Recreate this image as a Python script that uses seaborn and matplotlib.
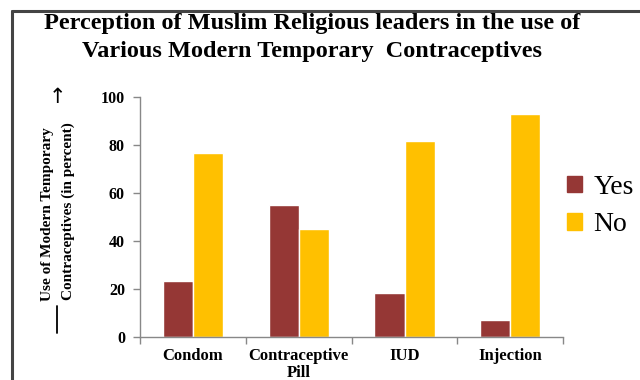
import matplotlib
matplotlib.use("Agg")
import matplotlib.pyplot as plt
from matplotlib.lines import Line2D
import seaborn as sns
import pandas as pd

categories = ["Condom", "Contraceptive\nPill", "IUD", "Injection"]
yes_values = [23.5, 55, 18.5, 7]
no_values = [76.5, 45, 81.5, 93]
series_names = ["Yes", "No"]
colors = ["#953735", "#FFC000"]
y_ticks = [0, 20, 40, 60, 80, 100]

df = pd.DataFrame({
    "Method": categories * 2,
    "Value": yes_values + no_values,
    "Response": [series_names[0]] * len(categories) + [series_names[1]] * len(categories),
})

sns.set_theme(style="white")
plt.rcParams["font.family"] = ["Liberation Serif", "DejaVu Serif"]
plt.rcParams["text.color"] = "black"
plt.rcParams["xtick.labelcolor"] = "black"
plt.rcParams["ytick.labelcolor"] = "black"

fig = plt.figure(figsize=(6.4, 3.8), dpi=100)
ax = fig.add_axes([0.219, 0.113, 0.661, 0.632])

sns.barplot(data=df, x="Method", y="Value", hue="Response", palette=colors,
            width=0.57, saturation=1, ax=ax, legend=False)

ax.set_ylim(0, 100)
ax.set_xlim(-0.5, 3.5)
ax.set_yticks(y_ticks)
ax.set_yticklabels([str(t) for t in y_ticks], fontsize=11.5, fontweight="bold", color="black")
ax.set_xticks(range(len(categories)))
ax.set_xticklabels(categories, fontsize=12, fontweight="bold", linespacing=1.05, color="black")
ax.set_xticks([-0.5, 0.5, 1.5, 2.5, 3.5], minor=True)
ax.tick_params(axis="x", which="major", length=0, pad=8)
ax.tick_params(axis="x", which="minor", length=5, color="#888888", width=1, direction="out", bottom=True)
ax.tick_params(axis="y", length=5, color="#888888", width=1, direction="out", left=True, pad=6)
ax.set_xlabel("")
ax.set_ylabel("")
for s in ["top", "right"]:
    ax.spines[s].set_visible(False)
for s in ["left", "bottom"]:
    ax.spines[s].set_color("#888888")
    ax.spines[s].set_linewidth(1)

# Legend
handles = [plt.Rectangle((0, 0), 1, 1, color=c) for c in colors]
leg = fig.legend(handles, series_names, loc="center left", bbox_to_anchor=(0.864, 0.458),
                 frameon=False, fontsize=20, handlelength=0.55, handleheight=0.55,
                 handletextpad=0.4, labelspacing=0.45, borderpad=0)
for t in leg.get_texts():
    t.set_color("black")

# Title
fig.text(0.488, 1 - 24 / 380, "Perception of Muslim Religious leaders in the use of",
         ha="center", va="center", fontsize=17.5, fontweight="bold", color="black")
fig.text(0.488, 1 - 51 / 380, "Various Modern Temporary  Contraceptives",
         ha="center", va="center", fontsize=17.5, fontweight="bold", color="black")

# Y label (two lines) with arrow and dash
fig.text(48 / 640, 1 - 214 / 380, "Use of Modern Temporary", rotation=90,
         ha="center", va="center", fontsize=11, fontweight="bold", color="black")
fig.text(68 / 640, 1 - 211 / 380, "Contraceptives (in percent)", rotation=90,
         ha="center", va="center", fontsize=11, fontweight="bold", color="black")
fig.text(57 / 640, 1 - 97 / 380, "\u2191", ha="center", va="center", fontsize=15,
         family=["DejaVu Sans"], color="black")
fig.add_artist(Line2D([57 / 640, 57 / 640], [1 - 306 / 380, 1 - 333 / 380],
                      transform=fig.transFigure, color="black", lw=1.3))

# Frame lines
fig.add_artist(Line2D([12 / 640, 1.0], [1 - 11 / 380, 1 - 11 / 380],
                      transform=fig.transFigure, color="#444444", lw=2.2))
fig.add_artist(Line2D([12 / 640, 12 / 640], [1 - 11 / 380, 0.0],
                      transform=fig.transFigure, color="#444444", lw=2.2))

fig.savefig("out.png", dpi=100)
